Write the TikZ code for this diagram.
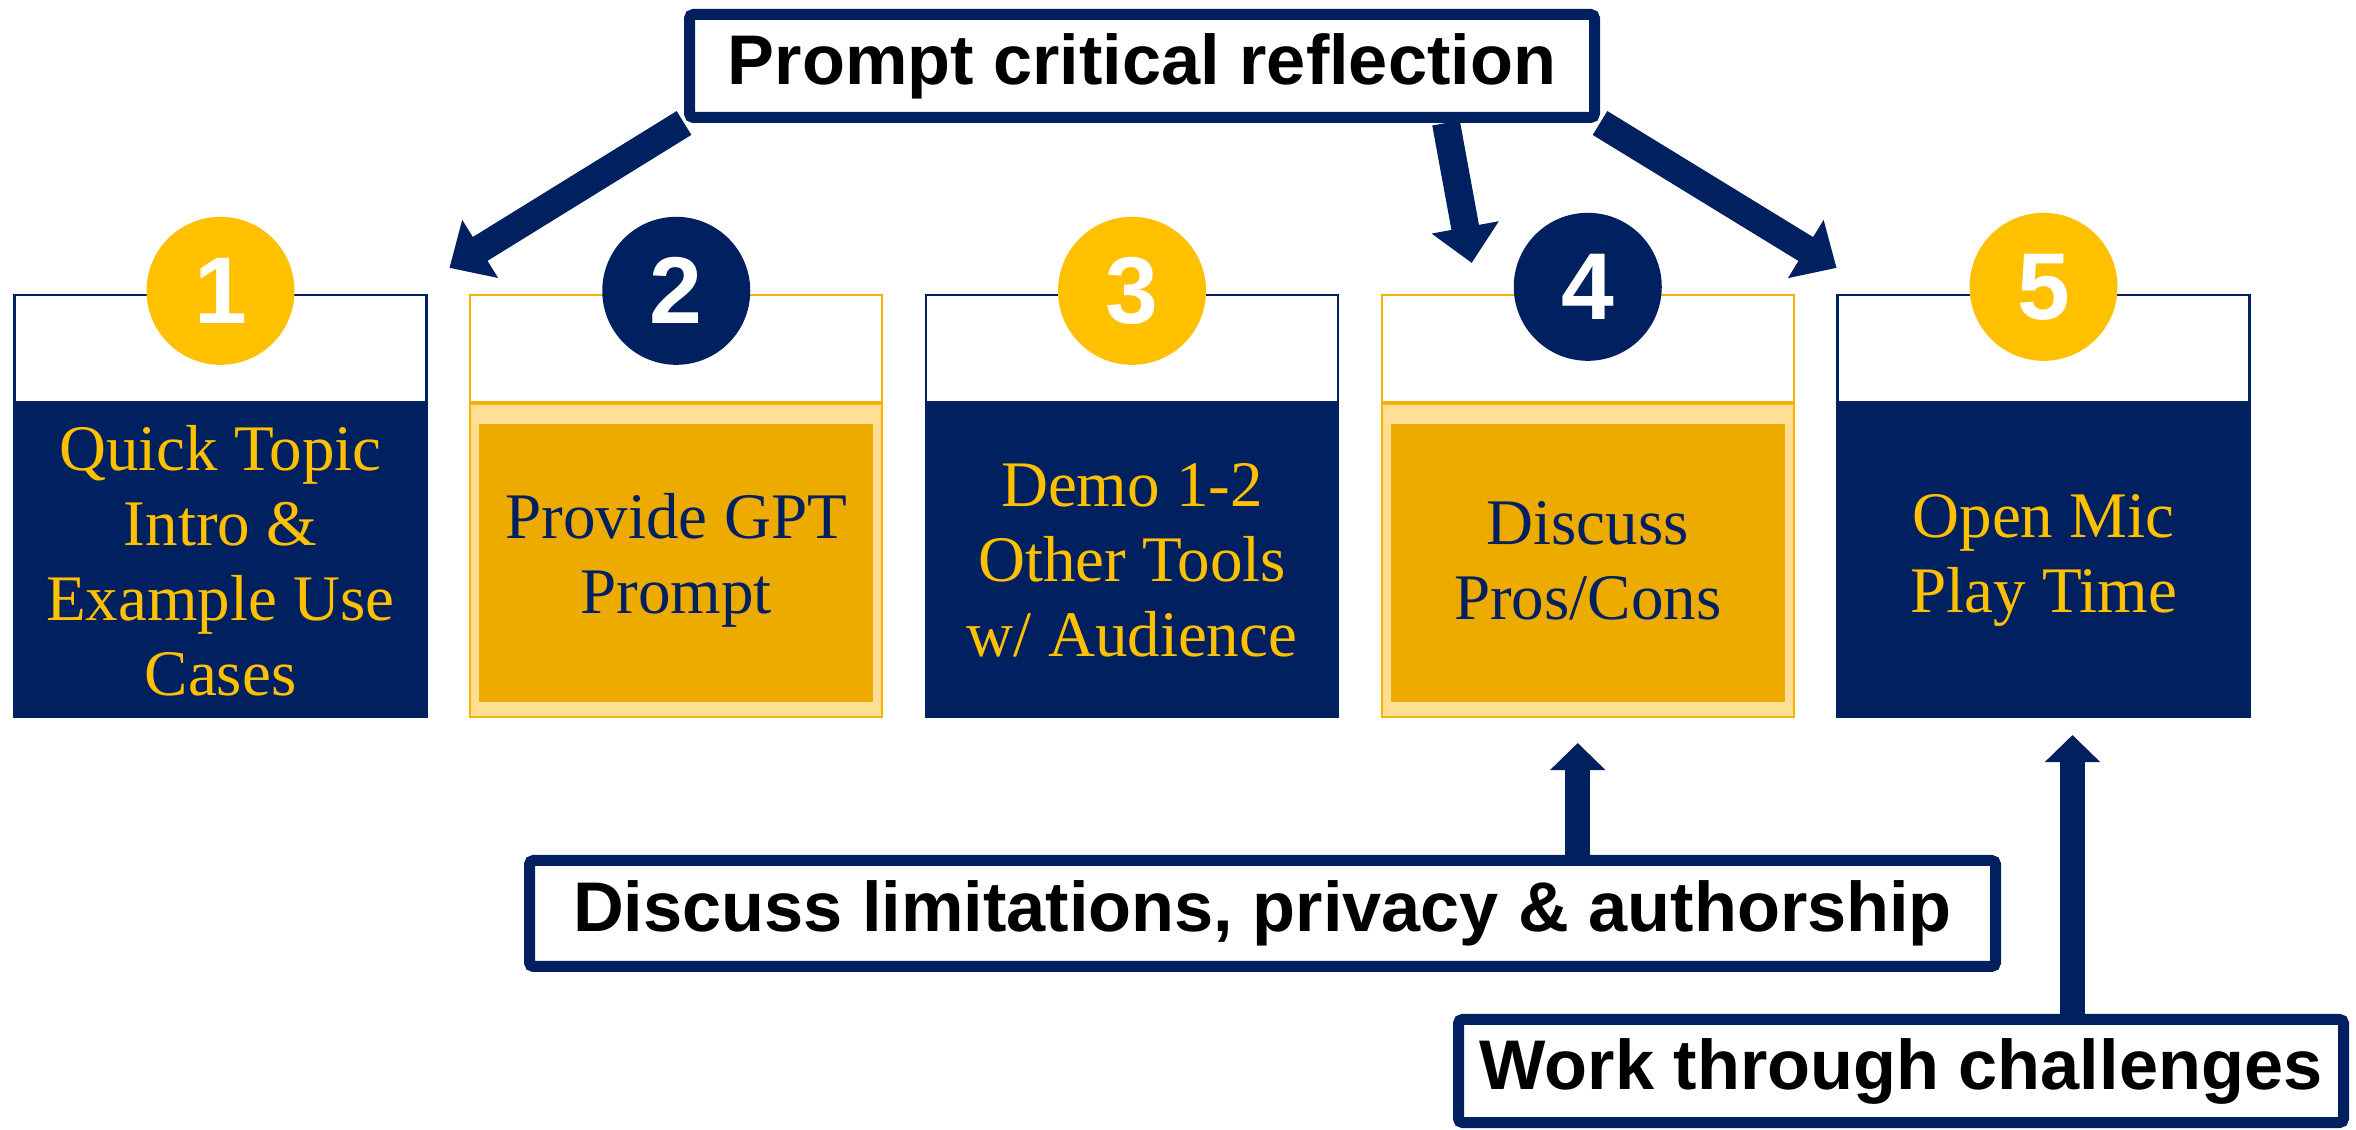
\documentclass[tikz,border=0pt]{standalone}
\usepackage{fontspec}
\setmainfont{Liberation Serif}
\setsansfont{Liberation Sans}
\usetikzlibrary{arrows.meta,positioning}
\definecolor{navy}{HTML}{002060}
\definecolor{sungold}{HTML}{FFC000}
\definecolor{deepgold}{HTML}{EDAB00}
\definecolor{palegold}{HTML}{FFDF95}
\definecolor{rimgold}{HTML}{F5B300}

\begin{document}
\begin{tikzpicture}[node distance=4.5575cm,
  stage base/.style={rectangle,minimum width=4.12cm,minimum height=3.13cm,inner sep=0pt,line width=0.6pt,align=center,font=\fontsize{18.5}{21.3}\selectfont},
  navy stage/.style={stage base,fill=navy,draw=navy,text=sungold},
  gold stage/.style={stage base,fill=palegold,draw=rimgold,text=navy,
    path picture={\fill[deepgold] ([shift={(0.09,-0.2)}]path picture bounding box.north west) rectangle ([shift={(-0.09,0.15)}]path picture bounding box.south east);}},
  stage head/.style={rectangle,fill=white,minimum width=4.12cm,minimum height=1.07cm,inner sep=0pt,line width=0.6pt},
  num/.style={circle,minimum size=1.48cm,inner sep=0pt,text=white,font=\sffamily\bfseries\fontsize{27}{30}\selectfont},
  label box/.style={rectangle,draw=navy,fill=white,line width=0.11cm,rounded corners=0.04cm,inner sep=0pt,font=\sffamily\bfseries\fontsize{20}{24}\selectfont},
  fat arrow/.style={draw=navy,line width=0.28cm,-{Triangle[width=0.68cm,length=0.36cm,line width=0.5pt]}},
  thin arrow/.style={draw=navy,line width=0.25cm,-{Triangle[width=0.55cm,length=0.27cm,line width=0.5pt]}}]

 \useasboundingbox (0,0) rectangle (23.56,-11.30);

 \node[navy stage] (s1) at (2.205,-5.605) {Quick Topic\\Intro \&\\Example Use\\Cases};
 \node[gold stage] (s2) [right of=s1] {Provide GPT\\Prompt};
 \node[navy stage] (s3) [right of=s2] {Demo 1-2\\Other Tools\\w/ Audience};
 \node[gold stage] (s4) [right of=s3] {Discuss\\Pros/Cons};
 \node[navy stage] (s5) [right of=s4] {Open Mic\\Play Time};

 \node[stage head,draw=navy] (h1) [above=0pt of s1] {};
 \node[stage head,draw=rimgold] (h2) [above=0pt of s2] {};
 \node[stage head,draw=navy] (h3) [above=0pt of s3] {};
 \node[stage head,draw=rimgold] (h4) [above=0pt of s4] {};
 \node[stage head,draw=navy] (h5) [above=0pt of s5] {};

 \node[num,fill=sungold] (n1) at ([yshift=0.03cm]h1.north) {1};
 \node[num,fill=navy] (n2) at ([yshift=0.03cm]h2.north) {2};
 \node[num,fill=sungold] (n3) at ([yshift=0.03cm]h3.north) {3};
 \node[num,fill=navy] (n4) at ([yshift=0.07cm]h4.north) {4};
 \node[num,fill=sungold] (n5) at ([yshift=0.07cm]h5.north) {5};

 \node[label box,minimum width=9.05cm,minimum height=1.03cm] (crit) at (11.42,-0.66) {Prompt critical reflection};
 \node[label box,minimum width=14.66cm,minimum height=1.06cm] (disc) at (12.625,-9.135) {Discuss limitations, privacy \& authorship};
 \node[label box,minimum width=8.85cm,minimum height=1.03cm] (work) at (19.01,-10.71) {Work through challenges};

 \coordinate (ta) at ([shift={(0.22,0.26)}]h1.north east);
 \coordinate (tb) at ([shift={(0.91,0.31)}]h4.north west);
 \coordinate (tc) at ([shift={(0,0.26)}]h5.north west);
 \coordinate (td) at ([shift={(-0.1,-0.25)}]s4.south);
 \coordinate (te) at ([shift={(0.29,-0.17)}]s5.south);

 \path (crit.south west) edge[fat arrow] (ta)
    ([xshift=3.04cm]crit.south) edge[fat arrow] (tb)
    (crit.south east) edge[fat arrow] (tc)
    (disc.north -| td) edge[thin arrow] (td)
    (work.north -| te) edge[thin arrow] (te);

\end{tikzpicture}
\end{document}
